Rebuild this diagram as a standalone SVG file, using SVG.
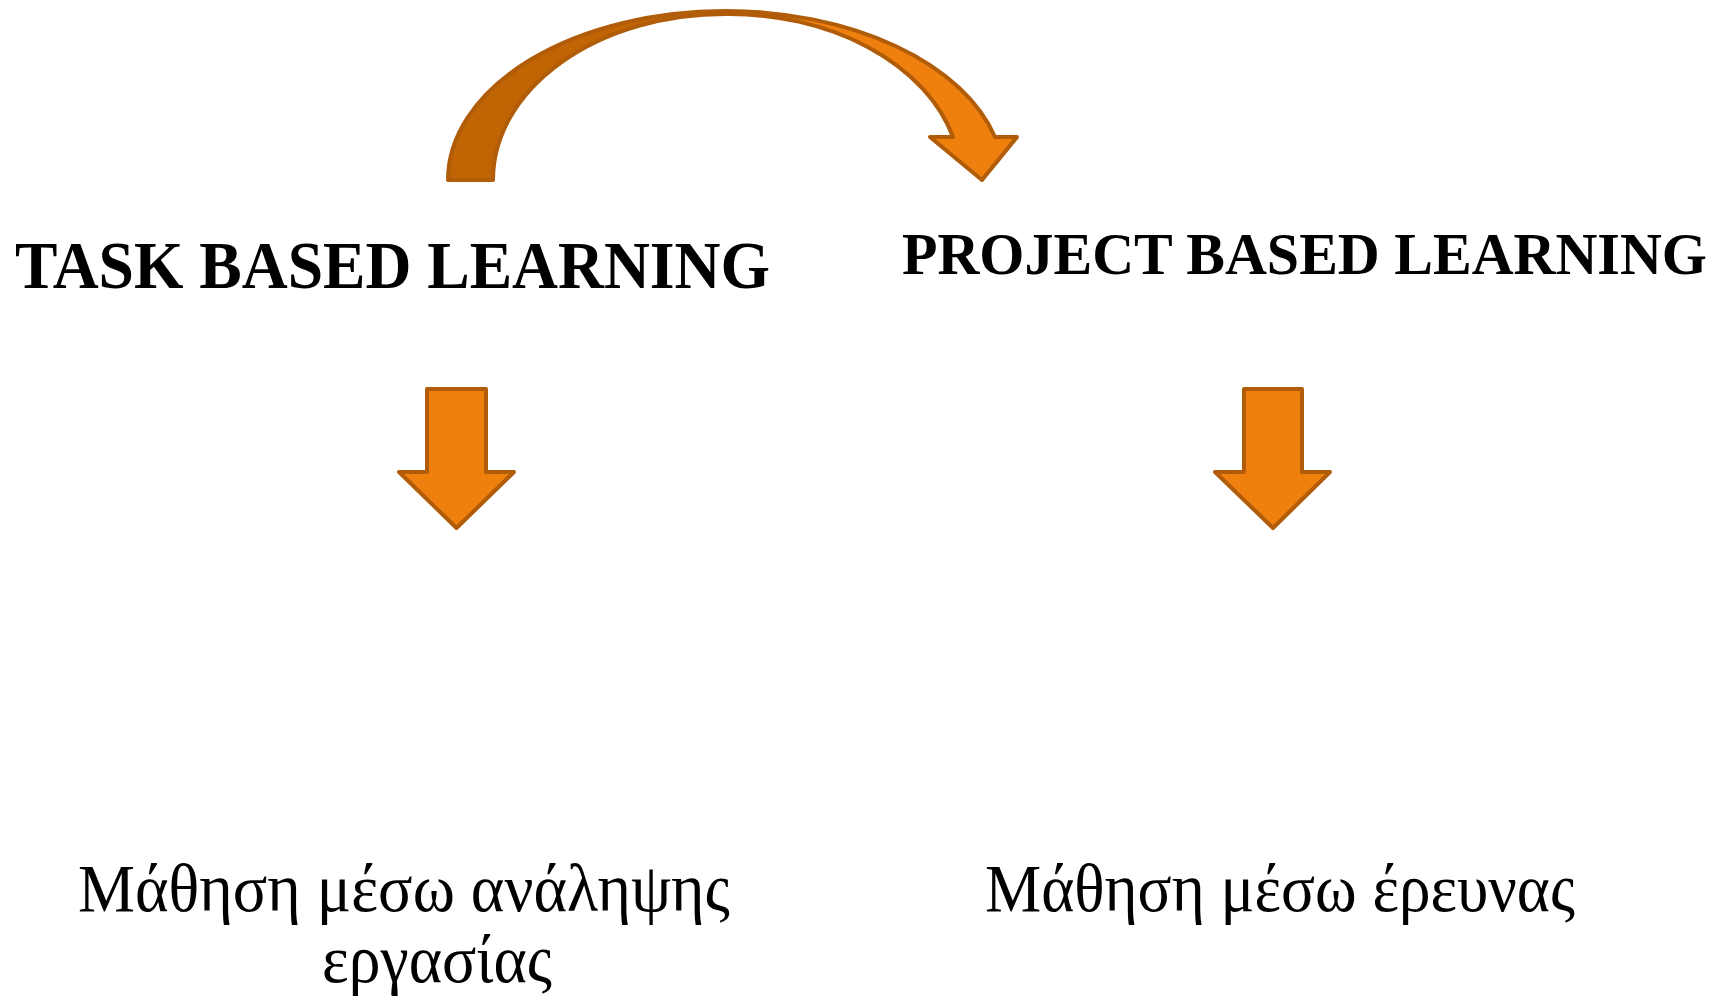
<svg xmlns="http://www.w3.org/2000/svg" width="1731" height="999" viewBox="0 0 1731 999">
<style>
.shape{stroke:#B05C08;stroke-width:4;stroke-linejoin:round}
.light{fill:#EF800E}
.dark{fill:#C06404}
.head{font-family:"Liberation Serif","Times New Roman",serif;font-weight:bold;fill:#000}
.greek{font-family:"Liberation Serif","Times New Roman",serif;font-size:67px;fill:#000}
</style>
<rect width="1731" height="999" fill="#fff"/>
<g id="connectors">
<g id="curved-arrow">
<path class="shape dark" d="M448,180 A277,169 0 0 1 725,11 L725,14 A232,166 0 0 0 493,180 Z"/>
<path class="shape light" d="M725,11 A278,169 0 0 1 995,137 L1017,137 L982,180 L930,137 L953,137 A232,166 0 0 0 725,14 Z"/>
</g>
<path id="arrow-left" class="shape light" d="M427,389 L486,389 L486,472 L514,472 L456.5,528 L399,472 L427,472 Z"/>
<path id="arrow-right" class="shape light" d="M1244,389 L1302,389 L1302,472 L1330,472 L1273,528 L1215,472 L1244,472 Z"/>
</g>
<g id="node-task">
<text class="head" x="15" y="288" font-size="68" textLength="755" lengthAdjust="spacingAndGlyphs">TASK BASED LEARNING</text>
</g>
<g id="node-project">
<text class="head" x="902" y="274" font-size="60" textLength="805" lengthAdjust="spacingAndGlyphs">PROJECT BASED LEARNING</text>
</g>
<g id="node-task-desc">
<text class="greek" x="78" y="911" textLength="652" lengthAdjust="spacingAndGlyphs">Μάθηση μέσω ανάληψης</text>
<text class="greek" x="322" y="982" textLength="230" lengthAdjust="spacingAndGlyphs">εργασίας</text>
</g>
<g id="node-project-desc">
<text class="greek" x="985" y="911" textLength="590" lengthAdjust="spacingAndGlyphs">Μάθηση μέσω έρευνας</text>
</g>
</svg>
